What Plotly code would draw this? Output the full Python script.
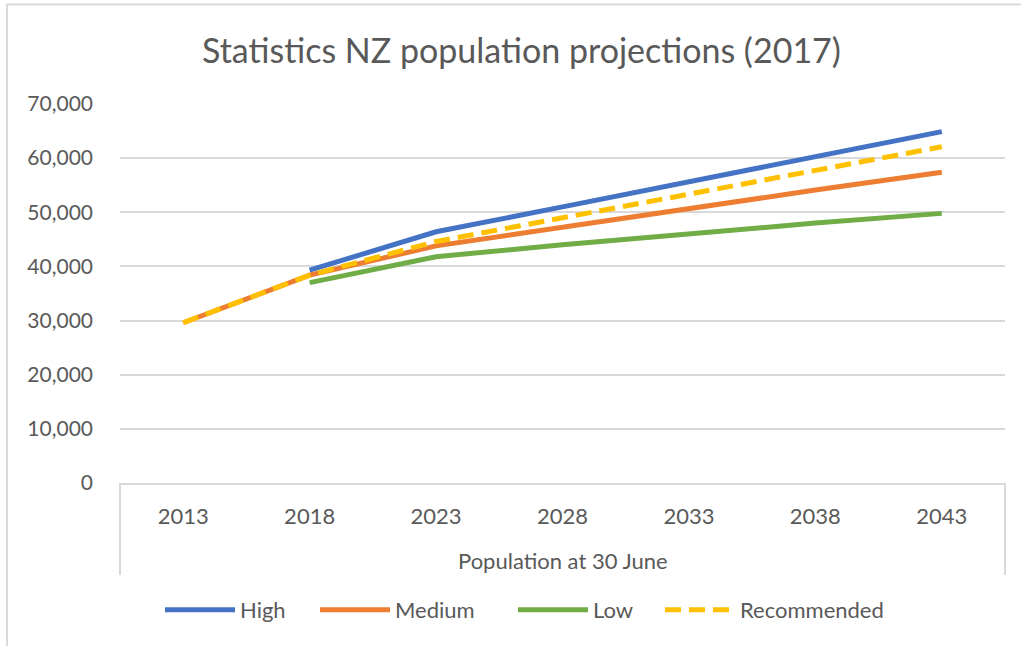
import plotly.graph_objects as go

years = ["2013", "2018", "2023", "2028", "2033", "2038", "2043"]
high = [None, 39300, 46400, 51000, 55700, 60300, 64900]
medium = [29600, 38400, 43800, 47300, 50700, 54100, 57400]
low = [None, 37000, 41800, 44000, 46100, 48000, 49800]
recommended = [29600, 38400, 44600, 49000, 53500, 57900, 62100]

series_names = ["High", "Medium", "Low", "Recommended"]
series_colors = ["#4472C4", "#ED7D31", "#70AD47", "#FFC000"]

title_text = "Statistics NZ population projections (2017)"
x_title = "Population at 30 June"

FONT = "Lato"
TXT = "#595959"
GRID = "#D9D9D9"

W, H = 1021, 646
L, R, T, B = 120, 16, 104, 163
pw, ph = W - L - R, H - T - B


def px_x(x):
    return (x - L) / pw


def px_y(y):
    return (H - B - y) / ph


legend_ids = ["legend", "legend2", "legend3", "legend4"]
legend_line_starts = [165, 320, 518, 665]

fig = go.Figure()
for name, vals, col, lid in zip(series_names, [high, medium, low, recommended],
                                series_colors, legend_ids):
    fig.add_trace(go.Scatter(
        x=years, y=vals, name=name, mode="lines", legend=lid,
        line=dict(color=col, width=5,
                  dash="16px,8px" if name == "Recommended" else "solid"),
    ))

legend_cfg = {}
for lid, ls in zip(legend_ids, legend_line_starts):
    legend_cfg[lid] = dict(orientation="h", x=px_x(ls - 5), xanchor="left",
                           y=px_y(610), yanchor="middle",
                           font=dict(size=22, color=TXT), itemwidth=70,
                           bgcolor="rgba(0,0,0,0)")

fig.update_layout(
    width=W, height=H,
    margin=dict(l=L, r=R, t=T, b=B, autoexpand=False),
    paper_bgcolor="white", plot_bgcolor="white",
    font=dict(family=FONT, color=TXT, size=22),
    showlegend=True,
    xaxis=dict(type="category", range=[-0.5, 6.5], showgrid=False,
               showline=True, linecolor=GRID, linewidth=2,
               ticks="", ticklabelstandoff=13,
               tickfont=dict(size=22, color=TXT), fixedrange=True),
    yaxis=dict(range=[0, 70000], dtick=10000, tickformat=",",
               showgrid=True, gridcolor=GRID, gridwidth=2,
               zeroline=False, showline=False, ticks="",
               ticklabelstandoff=26,
               tickfont=dict(size=21, color=TXT), fixedrange=True),
    **legend_cfg,
)

fig.add_annotation(text=title_text, xref="paper", yref="paper",
                   x=px_x(521), y=px_y(50), xanchor="center", yanchor="middle",
                   showarrow=False, font=dict(size=34, color=TXT, family=FONT))
fig.add_annotation(text=x_title, xref="paper", yref="paper",
                   x=px_x(563), y=px_y(560), xanchor="center", yanchor="middle",
                   showarrow=False, font=dict(size=22, color=TXT, family=FONT))

# category-axis box sides
for xp in (0, 1):
    fig.add_shape(type="line", xref="paper", yref="paper",
                  x0=xp, x1=xp, y0=0, y1=px_y(575),
                  line=dict(color=GRID, width=2))

# chart border
fig.add_shape(type="rect", xref="paper", yref="paper",
              x0=px_x(7), x1=px_x(1040), y0=px_y(660), y1=px_y(4.5),
              line=dict(color=GRID, width=2), layer="below")

fig.write_html("out.html", config={"displayModeBar": False},
               post_script="document.body.style.margin='0';")
